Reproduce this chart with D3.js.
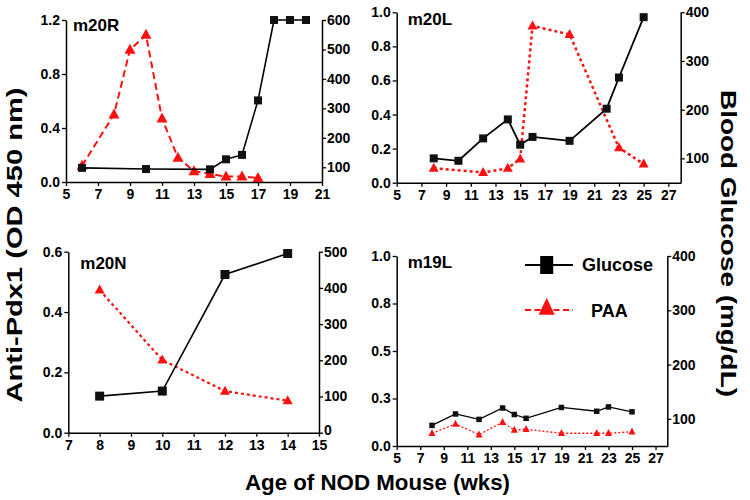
<!DOCTYPE html>
<html>
<head>
<meta charset="utf-8">
<script src="https://cdn.jsdelivr.net/npm/d3@7"></script>
<style>
  html, body { margin: 0; padding: 0; background: #fff; }
  svg { display: block; font-family: "Liberation Sans", Arial, sans-serif; }
  .tick text { font-weight: bold; font-size: 14px; fill: #000; }
</style>
</head>
<body>
<svg id="chart" width="750" height="500"></svg>
<script>
// ---------------- DATA ----------------
// m20R
const m20R_glucoseWeeks = [6, 10, 14, 15, 16, 17, 18, 19, 20];
const m20R_glucose      = [98, 94, 93, 127, 142, 327, 600, 600, 600];
const m20R_paaWeeks     = [6, 8, 9, 10, 11, 12, 13, 14, 15, 16, 17];
const m20R_paa          = [0.12, 0.50, 0.98, 1.09, 0.47, 0.18, 0.08, 0.06, 0.04, 0.04, 0.03];
// m20L
const m20L_glucoseWeeks = [8, 10, 12, 14, 15, 16, 19, 22, 23, 25];
const m20L_glucose      = [100, 95, 141, 180, 128, 144, 136, 202, 266, 390];
const m20L_paaWeeks     = [8, 12, 14, 15, 16, 19, 23, 25];
const m20L_paa          = [0.085, 0.06, 0.085, 0.14, 0.92, 0.87, 0.205, 0.11];
// m20N
const m20N_glucoseWeeks = [8, 10, 12, 14];
const m20N_glucose      = [101, 115, 437, 495];
const m20N_paaWeeks     = [8, 10, 12, 14];
const m20N_paa          = [0.473, 0.241, 0.138, 0.106];
// m19L
const m19L_glucoseWeeks = [8, 10, 12, 14, 15, 16, 19, 22, 23, 25];
const m19L_glucose      = [88, 109, 99, 120, 108, 101, 121, 114, 122, 113];
const m19L_paaWeeks     = [8, 10, 12, 14, 15, 16, 19, 22, 23, 25];
const m19L_paa          = [0.067, 0.116, 0.06, 0.125, 0.084, 0.088, 0.067, 0.067, 0.067, 0.075];

// tick values / labels
const m20R_xTicks = [5, 7, 9, 11, 13, 15, 17, 19, 21];
const m20R_leftTicks = [0, 0.4, 0.8, 1.2];
const m20R_leftLabels = ["0.0", "0.4", "0.8", "1.2"];
const m20R_rightTicks = [100, 200, 300, 400, 500, 600];

const m20L_xTicks = [5, 7, 9, 11, 13, 15, 17, 19, 21, 23, 25, 27];
const m20L_leftTicks = [0, 0.2, 0.4, 0.6, 0.8, 1.0];
const m20L_leftLabels = ["0.0", "0.2", "0.4", "0.6", "0.8", "1.0"];
const m20L_rightTicks = [100, 200, 300, 400];

const m20N_xTicks = [7, 8, 9, 10, 11, 12, 13, 14, 15];
const m20N_leftTicks = [0, 0.2, 0.4, 0.6];
const m20N_leftLabels = ["0.0", "0.2", "0.4", "0.6"];
const m20N_rightTicks = [0, 100, 200, 300, 400, 500];

const m19L_xTicks = [5, 7, 9, 11, 13, 15, 17, 19, 21, 23, 25, 27];
const m19L_leftTicks = [0, 0.25, 0.5, 0.75, 1.0];
const m19L_leftLabels = ["0.0", "0.3", "0.5", "0.8", "1.0"];
const m19L_rightTicks = [100, 200, 300, 400];

const legendLabels = ["Glucose", "PAA"];
const yTitleLeft = "Anti-Pdx1 (OD 450 nm)";
const yTitleRight = "Blood Glucose (mg/dL)";
const xTitle = "Age of NOD Mouse (wks)";

// ---------------- LAYOUT ----------------
const panels = [
  { name: "m20R", left: 66, right: 322, top: 20, bottom: 182,
    xDomain: [5, 21], lDomain: [0, 1.2], rDomain: [50, 600],
    gx: m20R_glucoseWeeks, gy: m20R_glucose, px: m20R_paaWeeks, py: m20R_paa,
    xTicks: m20R_xTicks, lTicks: m20R_leftTicks, lLabels: m20R_leftLabels, rTicks: m20R_rightTicks,
    labelDx: 7, labelDy: 11,
    dash: "7,4", paaW: 2, glW: 1.6, sq: 8, tri: [11, 10] },
  { name: "m20L", left: 396.7, right: 680.7, top: 12.3, bottom: 182.7,
    xDomain: [5, 28], lDomain: [0, 1.0], rDomain: [50, 400],
    gx: m20L_glucoseWeeks, gy: m20L_glucose, px: m20L_paaWeeks, py: m20L_paa,
    xTicks: m20L_xTicks, lTicks: m20L_leftTicks, lLabels: m20L_leftLabels, rTicks: m20L_rightTicks,
    labelDx: 11, labelDy: 13,
    dash: "3,3", paaW: 2.5, glW: 1.8, sq: 8, tri: [10, 9] },
  { name: "m20N", left: 68.3, right: 319, top: 251.7, bottom: 432.7,
    xDomain: [7, 15], lDomain: [0, 0.6], rDomain: [0, 500],
    gx: m20N_glucoseWeeks, gy: m20N_glucose, px: m20N_paaWeeks, py: m20N_paa,
    xTicks: m20N_xTicks, lTicks: m20N_leftTicks, lLabels: m20N_leftLabels, rTicks: m20N_rightTicks,
    labelDx: 12, labelDy: 17,
    dash: "3,3", paaW: 2.2, glW: 1.6, sq: 9, tri: [10, 9] },
  { name: "m19L", left: 396.7, right: 667.3, top: 256, bottom: 446,
    xDomain: [5, 28], lDomain: [0, 1.0], rDomain: [50, 400],
    gx: m19L_glucoseWeeks, gy: m19L_glucose, px: m19L_paaWeeks, py: m19L_paa,
    xTicks: m19L_xTicks, lTicks: m19L_leftTicks, lLabels: m19L_leftLabels, rTicks: m19L_rightTicks,
    labelDx: 11, labelDy: 12,
    dash: "2,2", paaW: 1.3, glW: 1.3, sq: 5.5, tri: [7, 7] }
];

const RED = "#ff1010";
const svg = d3.select("#chart");

function triPath(cx, cy, w, h) {
  return `M${cx},${cy - h * 0.6}L${cx + w / 2},${cy + h * 0.4}L${cx - w / 2},${cy + h * 0.4}Z`;
}

panels.forEach(p => {
  const g = svg.append("g");
  const x = d3.scaleLinear().domain(p.xDomain).range([p.left, p.right]);
  const yl = d3.scaleLinear().domain(p.lDomain).range([p.bottom, p.top]);
  const yr = d3.scaleLinear().domain(p.rDomain).range([p.bottom, p.top]);

  const xAxis = d3.axisBottom(x).tickValues(p.xTicks).tickFormat(d3.format("d"))
    .tickSize(4).tickSizeOuter(0).tickPadding(3);
  const lAxis = d3.axisLeft(yl).tickValues(p.lTicks)
    .tickFormat((d, i) => p.lLabels[i]).tickSize(4).tickSizeOuter(0).tickPadding(2);
  const rAxis = d3.axisRight(yr).tickValues(p.rTicks).tickFormat(d3.format("d"))
    .tickSize(4).tickSizeOuter(0).tickPadding(1);

  const gx = g.append("g").attr("transform", `translate(0,${p.bottom})`).call(xAxis);
  const gl = g.append("g").attr("transform", `translate(${p.left},0)`).call(lAxis);
  const gr = g.append("g").attr("transform", `translate(${p.right},0)`).call(rAxis);
  [gx, gl, gr].forEach(a => {
    a.selectAll("path.domain").attr("stroke", "#000").attr("stroke-width", 1.5);
    a.selectAll(".tick line").attr("stroke", "#000").attr("stroke-width", 1.3);
  });
  // keep the bottom-most right-axis label clear of the x tick labels
  gr.selectAll(".tick text").filter(d => d === p.rDomain[0]).attr("dy", "0.1em");

  // PAA line (left axis)
  const paa = p.px.map((d, i) => [d, p.py[i]]);
  g.append("path")
    .attr("d", d3.line().x(d => x(d[0])).y(d => yl(d[1]))(paa))
    .attr("fill", "none").attr("stroke", RED)
    .attr("stroke-width", p.paaW).attr("stroke-dasharray", p.dash);
  g.selectAll(".tri").data(paa).enter().append("path")
    .attr("d", d => triPath(x(d[0]), yl(d[1]), p.tri[0], p.tri[1]))
    .attr("fill", RED);

  // Glucose line (right axis)
  const glu = p.gx.map((d, i) => [d, p.gy[i]]);
  g.append("path")
    .attr("d", d3.line().x(d => x(d[0])).y(d => yr(d[1]))(glu))
    .attr("fill", "none").attr("stroke", "#000").attr("stroke-width", p.glW);
  g.selectAll(".sq").data(glu).enter().append("rect")
    .attr("x", d => x(d[0]) - p.sq / 2).attr("y", d => yr(d[1]) - p.sq / 2)
    .attr("width", p.sq).attr("height", p.sq).attr("fill", "#111");

  // panel label
  g.append("text").attr("x", p.left + p.labelDx).attr("y", p.top + p.labelDy)
    .attr("font-size", 17).attr("font-weight", "bold").text(p.name);
});

// legend (in m19L panel)
const lg = svg.append("g");
const legendY = [265, 310];
lg.append("line").attr("x1", 525).attr("x2", 573).attr("y1", legendY[0]).attr("y2", legendY[0])
  .attr("stroke", "#000").attr("stroke-width", 2);
lg.append("rect").attr("x", 546.7 - 6.5).attr("y", legendY[0] - 9).attr("width", 13).attr("height", 18).attr("fill", "#000");
lg.append("line").attr("x1", 525).attr("x2", 573).attr("y1", legendY[1]).attr("y2", legendY[1])
  .attr("stroke", RED).attr("stroke-width", 2.2).attr("stroke-dasharray", "6,3.5");
lg.append("path").attr("d", triPath(546.7, legendY[1] - 2, 16, 17)).attr("fill", RED);
lg.append("text").attr("x", 582).attr("y", legendY[0] + 6).attr("font-size", 18).attr("font-weight", "bold").text(legendLabels[0]);
lg.append("text").attr("x", 591).attr("y", legendY[1] + 7).attr("font-size", 18).attr("font-weight", "bold").text(legendLabels[1]);

// titles
svg.append("text").attr("transform", "translate(14,245) rotate(-90)")
  .attr("text-anchor", "middle").attr("dominant-baseline", "central")
  .attr("font-size", 22).attr("font-weight", "bold")
  .attr("textLength", 315).attr("lengthAdjust", "spacingAndGlyphs").text(yTitleLeft);
svg.append("text").attr("transform", "translate(728,243.5) rotate(90)")
  .attr("text-anchor", "middle").attr("dominant-baseline", "central")
  .attr("font-size", 22).attr("font-weight", "bold")
  .attr("textLength", 307).attr("lengthAdjust", "spacingAndGlyphs").text(yTitleRight);
svg.append("text").attr("x", 377.5).attr("y", 490).attr("text-anchor", "middle")
  .attr("font-size", 22.3).attr("font-weight", "bold").text(xTitle);
</script>
</body>
</html>
